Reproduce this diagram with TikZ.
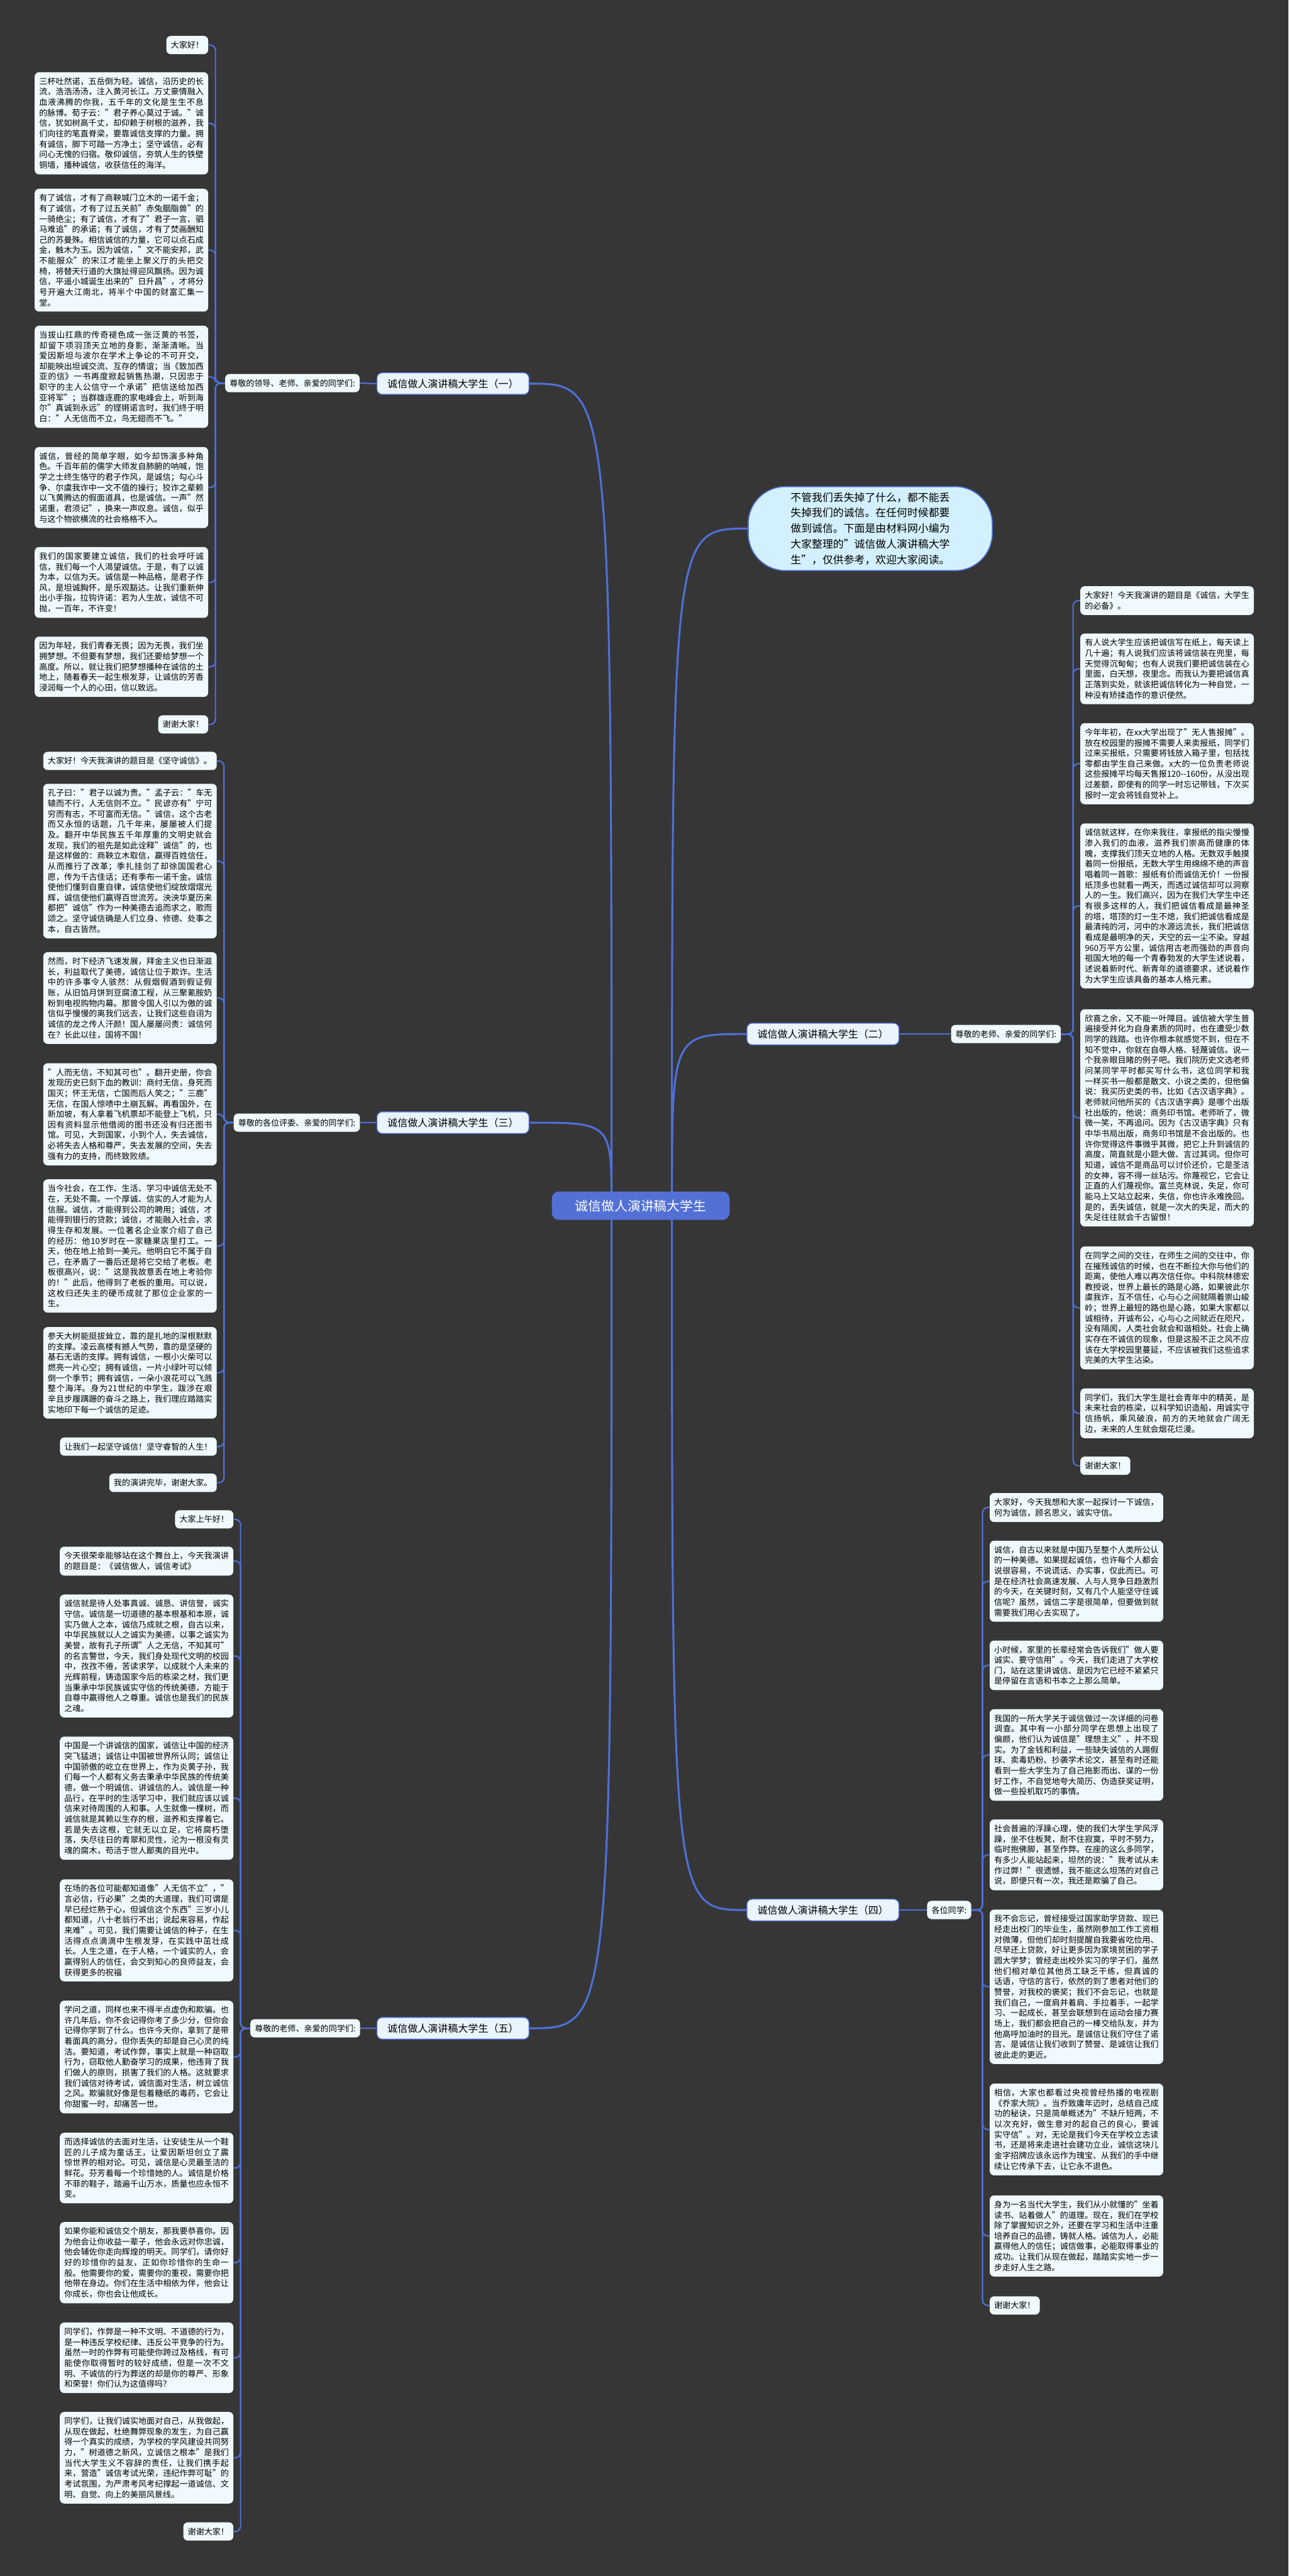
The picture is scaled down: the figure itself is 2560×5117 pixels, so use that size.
\documentclass[tikz,border=0pt]{standalone}
\usepackage{fontspec}
\setmainfont{Noto Sans CJK SC}
\XeTeXlinebreaklocale "zh"
\XeTeXlinebreakskip=0pt plus 1.5pt
\usepackage{tikz}
\usetikzlibrary{calc}
\definecolor{bgdark}{HTML}{363636}
\definecolor{leaffill}{HTML}{F0F9FD}
\definecolor{linkblue}{HTML}{4F70D8}
\definecolor{rootblue}{HTML}{5270D6}
\definecolor{bubblefill}{HTML}{D3F0FE}
\definecolor{mainfill}{HTML}{EAF4FE}
\pgfdeclarelayer{bg}
\pgfdeclarelayer{links}
\pgfsetlayers{bg,links,main}
\tikzset{
  leaf/.style={rectangle, rounded corners=5pt, fill=leaffill, text=black, inner xsep=5.1pt, inner ysep=6pt, font=\fontsize{9.28pt}{11.84pt}\selectfont},
  para/.style={leaf, text width=186pt, align=justify},
  lab/.style={leaf},
  branch/.style={rectangle, rounded corners=6pt, fill=mainfill, draw=linkblue, line width=1pt, minimum width=172pt, minimum height=24.5pt, inner sep=2pt, font=\fontsize{11.4pt}{13pt}\selectfont},
  root/.style={rectangle, rounded corners=8pt, fill=rootblue, text=white, minimum width=201pt, minimum height=32pt, inner sep=2pt, font=\fontsize{14.8pt}{17pt}\selectfont},
  bubble/.style={rectangle, rounded corners=42pt, fill=bubblefill, draw=linkblue, line width=1.2pt, text width=180pt, align=justify, minimum width=276pt, minimum height=95pt, inner ysep=6pt, font=\fontsize{12pt}{17.6pt}\selectfont},
  link/.style={draw=linkblue, line width=1.55pt, rounded corners=6pt},
  trunk/.style={draw=linkblue, line width=2.2pt}
}
\begin{document}
\begin{tikzpicture}[x=0.02cm, y=-0.02cm]

% canvas
\useasboundingbox (0,0) rectangle (2560,5117);
\begin{pgfonlayer}{bg}
  \fill[bgdark] (0,0) rectangle (2560,5117);
\end{pgfonlayer}

% centre and main topics
\node[root] (root) at (1273,2395) {诚信做人演讲稿大学生};
\coordinate (cl) at (1215,2395);
\coordinate (cr) at (1335,2395);

\node[bubble] (bub) at (1729,1050) {不管我们丢失掉了什么，都不能丢失掉我们的诚信。在任何时候都要做到诚信。下面是由材料网小编为大家整理的"诚信做人演讲稿大学生"，仅供参考，欢迎大家阅读。};

\node[branch] (b1) at (900,762) {诚信做人演讲稿大学生（一）};
\node[branch] (b2) at (1635,2054) {诚信做人演讲稿大学生（二）};
\node[branch] (b3) at (900,2230) {诚信做人演讲稿大学生（三）};
\node[branch] (b4) at (1635,3794) {诚信做人演讲稿大学生（四）};
\node[branch] (b5) at (900,4029) {诚信做人演讲稿大学生（五）};

% greetings
\node[lab, anchor=west] (l1) at (447,761) {尊敬的领导、老师、亲爱的同学们:};
\node[lab, anchor=east] (l2) at (2108,2054) {尊敬的老师、亲爱的同学们:};
\node[lab, anchor=west] (l3) at (464,2230) {尊敬的各位评委、亲爱的同学们:};
\node[lab, anchor=east] (l4) at (1930,3794) {各位同学:};
\node[lab, anchor=west] (l5) at (497,4029) {尊敬的老师、亲爱的同学们:};
\coordinate (sp1) at (428,761);
\coordinate (sp2) at (2132,2054);
\coordinate (sp3) at (445,2230);
\coordinate (sp4) at (1952,3794);
\coordinate (sp5) at (478,4029);

% speech (一)
\node[lab, anchor=east] (n1-1) at (414,89.5) {大家好！};
\node[para, anchor=east] (n1-2) at (414,245) {三杯吐然诺，五岳倒为轻。诚信，沿历史的长流，浩浩汤汤，注入黄河长江。万丈豪情融入血液沸腾的你我，五千年的文化是生生不息的脉博。荀子云："君子养心莫过于诚。"诚信，犹如树高千丈，却仰赖于树根的滋养，我们向往的笔直脊梁，要靠诚信支撑的力量。拥有诚信，脚下可踏一方净土；坚守诚信，必有问心无愧的归宿。敬仰诚信，夯筑人生的铁壁铜墙，播种诚信，收获信任的海洋。};
\node[para, anchor=east] (n1-3) at (414,497) {有了诚信，才有了商鞅城门立木的一诺千金；有了诚信，才有了过五关前"赤兔胭脂兽"的一骑绝尘；有了诚信，才有了"君子一言、驷马难追"的承诺；有了诚信，才有了焚画酬知己的苏曼殊。相信诚信的力量，它可以点石成金，触木为玉。因为诚信，"文不能安邦，武不能服众"的宋江才能坐上聚义厅的头把交椅，将替天行道的大旗扯得迎风飘扬。因为诚信，平遥小城诞生出来的"日升昌"，才将分号开遍大江南北，将半个中国的财富汇集一堂。};
\node[para, anchor=east] (n1-4) at (414,748.5) {当拔山扛鼎的传奇褪色成一张泛黄的书签，却留下项羽顶天立地的身影，渐渐清晰。当爱因斯坦与波尔在学术上争论的不可开交，却能映出坦诚交流、互存的情谊；当《致加西亚的信》一书再度掀起销售热潮，只因忠于职守的主人公信守一个承诺"把信送给加西亚将军"；当群雄逐鹿的家电峰会上，听到海尔"真诚到永远"的铿锵诺言时，我们终于明白："人无信而不立，鸟无翅而不飞。"};
\node[para, anchor=east] (n1-5) at (414,968.5) {诚信，曾经的简单字眼，如今却饰演多种角色。千百年前的儒学大师发自肺腑的呐喊，饱学之士终生恪守的君子作风，是诚信；勾心斗争、尔虞我诈中一文不值的操行；狡诈之辈赖以飞黄腾达的假面道具，也是诚信。一声"然诺重，君须记"，换来一声叹息。诚信，似乎与这个物欲横流的社会格格不入。};
\node[para, anchor=east] (n1-6) at (414,1157) {我们的国家要建立诚信，我们的社会呼吁诚信，我们每一个人渴望诚信。于是，有了以诚为本，以信为天。诚信是一种品格，是君子作风，是坦诚胸怀，是乐观豁达。让我们重新伸出小手指，拉钩许诺：若为人生故，诚信不可抛，一百年，不许变！};
\node[para, anchor=east] (n1-7) at (414,1324.5) {因为年轻，我们青春无畏；因为无畏，我们坐拥梦想。不但要有梦想，我们还要给梦想一个高度。所以，就让我们把梦想播种在诚信的土地上，随着春天一起生根发芽，让诚信的芳香浸润每一个人的心田，信以致远。};
\node[lab, anchor=east] (n1-8) at (414,1439) {谢谢大家！};

% speech (二)
\node[para, anchor=west] (n2-1) at (2146,1193) {大家好！今天我演讲的题目是《诚信，大学生的必备》。};
\node[para, anchor=west] (n2-2) at (2146,1328.5) {有人说大学生应该把诚信写在纸上，每天读上几十遍；有人说我们应该将诚信装在兜里，每天觉得沉甸甸；也有人说我们要把诚信装在心里面，白天想，夜里念。而我认为要把诚信真正落到实处，就该把诚信转化为一种自觉，一种没有矫揉造作的意识使然。};
\node[para, anchor=west] (n2-3) at (2146,1517) {今年年初，在xx大学出现了"无人售报摊"。放在校园里的报摊不需要人来卖报纸，同学们过来买报纸，只需要将钱放入箱子里，包括找零都由学生自己来做。x大的一位负责老师说这些报摊平均每天售报120-{}-160份，从没出现过差额，即使有的同学一时忘记带钱，下次买报时一定会将钱自觉补上。};
\node[para, anchor=west] (n2-4) at (2146,1799.5) {诚信就这样，在你来我往，拿报纸的指尖慢慢渗入我们的血液，滋养我们崇高而健康的体魄，支撑我们顶天立地的人格。无数双手触摸着同一份报纸，无数大学生用绵绵不绝的声音唱着同一首歌：报纸有价而诚信无价！一份报纸顶多也就看一两天，而透过诚信却可以洞察人的一生。我们高兴，因为在我们大学生中还有很多这样的人，我们把诚信看成是最神圣的塔，塔顶的灯一生不熄，我们把诚信看成是最清纯的河，河中的水源远流长，我们把诚信看成是最明净的天，天空的云一尘不染。穿越960万平方公里，诚信用古老而强劲的声音向祖国大地的每一个青春勃发的大学生述说着，述说着新时代、新青年的道德要求，述说着作为大学生应该具备的基本人格元素。};
\node[para, anchor=west] (n2-5) at (2146,2220.5) {欣喜之余，又不能一叶障目。诚信被大学生普遍接受并化为自身素质的同时，也在遭受少数同学的践踏。也许你根本就感觉不到，但在不知不觉中，你就在自辱人格、轻蔑诚信。说一个我亲眼目睹的例子吧。我们院历史文选老师问某同学平时都买写什么书，这位同学和我一样买书一般都是散文、小说之类的，但他偏说：我买历史类的书，比如《古汉语字典》。老师就问他所买的《古汉语字典》是哪个出版社出版的，他说：商务印书馆。老师听了，微微一笑，不再追问。因为《古汉语字典》只有中华书局出版，商务印书馆是不会出版的。也许你觉得这件事微乎其微，把它上升到诚信的高度，简直就是小题大做、言过其词。但你可知道，诚信不是商品可以讨价还价，它是圣洁的女神，容不得一丝玷污。你蔑视它，它会让正直的人们蔑视你。富兰克林说，失足，你可能马上又站立起来，失信，你也许永难挽回。是的，丢失诚信，就是一次大的失足，而大的失足往往就会千古留恨！};
\node[para, anchor=west] (n2-6) at (2146,2598) {在同学之间的交往，在师生之间的交往中，你在摧残诚信的时候，也在不断拉大你与他们的距离，使他人难以再次信任你。中科院林德宏教授说，世界上最长的路是心路，如果彼此尔虞我诈，互不信任，心与心之间就隔着崇山峻岭；世界上最短的路也是心路，如果大家都以诚相待，开诚布公，心与心之间就近在咫尺，没有隔阂，人类社会就会和谐相处。社会上确实存在不诚信的现象，但是这股不正之风不应该在大学校园里蔓延，不应该被我们这些追求完美的大学生沾染。};
\node[para, anchor=west] (n2-7) at (2146,2807.5) {同学们，我们大学生是社会青年中的精英，是未来社会的栋梁，以科学知识造船，用诚实守信扬帆，乘风破浪，前方的天地就会广阔无边，未来的人生就会烟花烂漫。};
\node[lab, anchor=west] (n2-8) at (2146,2911.5) {谢谢大家！};

% speech (三)
\node[para, anchor=east] (n3-1) at (431,1511.5) {大家好！今天我演讲的题目是《坚守诚信》。};
\node[para, anchor=east] (n3-2) at (431,1710.5) {孔子曰："君子以诚为贵。"孟子云："车无辕而不行，人无信则不立。"民谚亦有"宁可穷而有志，不可富而无信。"诚信，这个古老而又永恒的话题，几千年来，屡屡被人们提及。翻开中华民族五千年厚重的文明史就会发现，我们的祖先是如此诠释"诚信"的，也是这样做的：商鞅立木取信，赢得百姓信任，从而推行了改革；季扎挂剑了却徐国国君心愿，传为千古佳话；还有季布一诺千金。诚信使他们懂到自重自律，诚信使他们绽放熠熠光辉，诚信使他们赢得百世流芳。泱泱华夏历来都把"诚信"作为一种美德去追而求之，歌而颂之。坚守诚信确是人们立身、修德、处事之本，自古皆然。};
\node[para, anchor=east] (n3-3) at (431,1982.5) {然而，时下经济飞速发展，拜金主义也日渐滋长，利益取代了美德，诚信让位于欺诈。生活中的许多事令人骇然：从假烟假酒到假证假账，从旧馅月饼到豆腐渣工程，从三聚氰胺奶粉到电视购物内幕。那曾令国人引以为傲的诚信似乎慢慢的离我们远去，让我们这些自诩为诚信的龙之传人汗颜！国人屡屡问责：诚信何在？长此以往，国将不国！};
\node[para, anchor=east] (n3-4) at (431,2213.5) {"人而无信，不知其可也"。翻开史册，你会发现历史已刻下血的教训：商纣无信，身死而国灭；怀王无信，亡国而后人笑之；"三鹿"无信，在国人惊啧中土崩瓦解。再看国外，在新加坡，有人拿着飞机票却不能登上飞机，只因有资料显示他借阅的图书还没有归还图书馆。可见，大到国家，小到个人，失去诚信，必将失去人格和尊严，失去发展的空间，失去强有力的支持，而终致败绩。};
\node[para, anchor=east] (n3-5) at (431,2475) {当今社会，在工作、生活、学习中诚信无处不在，无处不需。一个厚诚、信实的人才能为人信服。诚信，才能得到公司的聘用；诚信，才能得到银行的贷款；诚信，才能融入社会，求得生存和发展。一位著名企业家介绍了自己的经历：他10岁时在一家糖果店里打工。一天，他在地上拾到一美元。他明白它不属于自己，在矛盾了一番后还是将它交给了老板。老板很高兴，说："这是我故意丢在地上考验你的！"此后，他得到了老板的重用。可以说，这枚归还失主的硬币成就了那位企业家的一生。};
\node[para, anchor=east] (n3-6) at (431,2727) {参天大树能挺拔耸立，靠的是扎地的深根默默的支撑。凌云高楼有撼人气势，靠的是坚硬的基石无语的支撑。拥有诚信，一根小火柴可以燃亮一片心空；拥有诚信，一片小绿叶可以倾倒一个季节；拥有诚信，一朵小浪花可以飞溅整个海洋。身为21世纪的中学生，跋涉在艰辛且步履蹒跚的奋斗之路上，我们理应踏踏实实地印下每一个诚信的足迹。};
\node[lab, anchor=east] (n3-7) at (431,2873.5) {让我们一起坚守诚信！坚守睿智的人生！};
\node[lab, anchor=east] (n3-8) at (431,2945.5) {我的演讲完毕，谢谢大家。};

% speech (四)
\node[para, anchor=west] (n4-1) at (1966,2994.5) {大家好，今天我想和大家一起探讨一下诚信，何为诚信，顾名思义，诚实守信。};
\node[para, anchor=west] (n4-2) at (1966,3141) {诚信，自古以来就是中国乃至整个人类所公认的一种美德。如果提起诚信，也许每个人都会说很容易，不说谎话、办实事，仅此而已。可是在经济社会高速发展、人与人竞争日趋激烈的今天，在关键时刻，又有几个人能坚守住诚信呢？虽然，诚信二字是很简单，但要做到就需要我们用心去实现了。};
\node[para, anchor=west] (n4-3) at (1966,3308) {小时候，家里的长辈经常会告诉我们"做人要诚实、要守信用"。今天，我们走进了大学校门，站在这里讲诚信、是因为它已经不紧紧只是停留在言语和书本之上那么简单。};
\node[para, anchor=west] (n4-4) at (1966,3486) {我国的一所大学关于诚信做过一次详细的问卷调查。其中有一小部分同学在思想上出现了偏颇，他们认为诚信是"理想主义"，并不现实。为了金钱和利益，一些缺失诚信的人踢假球、卖毒奶粉、抄袭学术论文，甚至有时还能看到一些大学生为了自己拖影而出、谋的一份好工作，不自觉地夸大简历、伪造获奖证明，做一些投机取巧的事情。};
\node[para, anchor=west] (n4-5) at (1966,3684.5) {社会普遍的浮躁心理，使的我们大学生学风浮躁，坐不住板凳，耐不住寂寞，平时不努力，临时抱佛脚，甚至作弊。在座的这么多同学，有多少人能站起来，坦然的说："我考试从未作过弊！"很遗憾，我不能这么坦荡的对自己说，即便只有一次，我还是欺骗了自己。};
\node[para, anchor=west] (n4-6) at (1966,3946.5) {我不会忘记，曾经接受过国家助学贷款、现已经走出校门的毕业生，虽然刚参加工作工资相对微薄，但他们却时刻提醒自我要省吃俭用、尽早还上贷款，好让更多因为家境贫困的学子圆大学梦；曾经走出校外实习的学子们，虽然他们相对单位其他员工缺乏干练，但真诚的话语，守信的言行，依然的到了患者对他们的赞誉，对我校的褒奖；我们不会忘记，也就是我们自己，一度肩并着肩、手拉着手，一起学习、一起成长，甚至会联想到在运动会接力赛场上，我们都会把自己的一棒交给队友，并为他高呼加油时的目光。是诚信让我们守住了诺言、是诚信让我们收到了赞誉、是诚信让我们彼此走的更近。};
\node[para, anchor=west] (n4-7) at (1966,4230) {相信，大家也都看过央视曾经热播的电视剧《乔家大院》。当乔致庸年迈时，总结自己成功的秘诀，只是简单概述为"不缺斤短两，不以次充好，做生意对的起自己的良心，要诚实守信"。对，无论是我们今天在学校立志读书，还是将来走进社会建功立业，诚信这块儿金字招牌应该永远作为瑰宝、从我们的手中继续让它传承下去，让它永不退色。};
\node[para, anchor=west] (n4-8) at (1966,4441.5) {身为一名当代大学生，我们从小就懂的"坐着读书、站着做人"的道理。现在，我们在学校除了掌握知识之外，还要在学习和生活中注重培养自己的品德，铸就人格。诚信为人，必能赢得他人的信任；诚信做事，必能取得事业的成功。让我们从现在做起，踏踏实实地一步一步走好人生之路。};
\node[lab, anchor=west] (n4-9) at (1966,4579.5) {谢谢大家！};

% speech (五)
\node[lab, anchor=east] (n5-1) at (464,3018) {大家上午好！};
\node[para, anchor=east] (n5-2) at (464,3101) {今天很荣幸能够站在这个舞台上，今天我演讲的题目是：《诚信做人，诚信考试》};
\node[para, anchor=east] (n5-3) at (464,3289.5) {诚信就是待人处事真诚、诚恳、讲信誉，诚实守信。诚信是一切道德的基本根基和本原，诚实乃做人之本，诚信乃成就之根，自古以来，中华民族就以人之诚实为美德，以事之诚实为美誉，故有孔子所谓"人之无信，不知其可"的名言警世，今天，我们身处现代文明的校园中，孜孜不倦，苦读求学，以成就个人未来的光辉前程，铸造国家今后的栋梁之材，我们更当秉承中华民族诚实守信的传统美德，方能于自尊中赢得他人之尊重。诚信也是我们的民族之魂。};
\node[para, anchor=east] (n5-4) at (464,3572) {中国是一个讲诚信的国家，诚信让中国的经济突飞猛进；诚信让中国被世界所认同；诚信让中国骄傲的屹立在世界上，作为炎黄子孙，我们每一个人都有义务去秉承中华民族的传统美德，做一个明诚信、讲诚信的人。诚信是一种品行，在平时的生活学习中，我们就应该以诚信来对待周围的人和事。人生就像一棵树，而诚信就是其赖以生存的根，滋养和支撑着它。若是失去这根，它就无以立足，它将腐朽堕落，失尽往日的青翠和灵性，沦为一根没有灵魂的腐木，苟活于世人鄙夷的目光中。};
\node[para, anchor=east] (n5-5) at (464,3834.5) {在场的各位可能都知道像"人无信不立"，"言必信，行必果"之类的大道理，我们可谓是早已经烂熟于心，但诚信这个东西"三岁小儿都知道，八十老翁行不出；说起来容易，作起来难"。可见，我们需要让诚信的种子，在生活得点点滴滴中生根发芽，在实践中茁壮成长。人生之道，在于人格，一个诚实的人，会赢得别人的信任，会交到知心的良师益友，会获得更多的祝福};
\node[para, anchor=east] (n5-6) at (464,4086) {学问之道，同样也来不得半点虚伪和欺骗。也许几年后，你不会记得你考了多少分，但你会记得你学到了什么。也许今天你，拿到了是带着面具的高分，但你丢失的却是自己心灵的纯洁。要知道，考试作弊，事实上就是一种窃取行为，窃取他人勤奋学习的成果，他违背了我们做人的原则，损害了我们的人格。这就要求我们诚信对待考试，诚信面对生活，树立诚信之风。欺骗就好像是包着糖纸的毒药，它会让你甜蜜一时，却痛苦一世。};
\node[para, anchor=east] (n5-7) at (464,4306.5) {而选择诚信的去面对生活，让安徒生从一个鞋匠的儿子成为童话王，让爱因斯坦创立了震惊世界的相对论。可见，诚信是心灵最圣洁的鲜花。芬芳着每一个珍惜她的人。诚信是价格不菲的鞋子，踏遍千山万水，质量也应永恒不变。};
\node[para, anchor=east] (n5-8) at (464,4494.5) {如果你能和诚信交个朋友，那我要恭喜你。因为他会让你收益一辈子，他会永远对你忠诚，他会辅佐你走向辉煌的明天。同学们，请你好好的珍惜你的益友，正如你珍惜你的生命一般。他需要你的爱，需要你的重视，需要你把他带在身边。你们在生活中相依为伴，他会让你成长，你也会让他成长。};
\node[para, anchor=east] (n5-9) at (464,4683.5) {同学们，作弊是一种不文明、不道德的行为，是一种违反学校纪律、违反公平竞争的行为。虽然一时的作弊有可能使你跨过及格线，有可能使你取得暂时的较好成绩，但是一次不文明、不诚信的行为葬送的却是你的尊严、形象和荣誉！你们认为这值得吗？};
\node[para, anchor=east] (n5-10) at (464,4882) {同学们，让我们诚实地面对自己，从我做起，从现在做起，杜绝舞弊现象的发生，为自己赢得一个真实的成绩，为学校的学风建设共同努力，"树道德之新风，立诚信之根本"是我们当代大学生义不容辞的责任，让我们携手起来，营造"诚信考试光荣，违纪作弊可耻"的考试氛围，为严肃考风考纪撑起一道诚信、文明、自觉、向上的美丽风景线。};
\node[lab, anchor=east] (n5-11) at (464,5028.5) {谢谢大家！};

% connectors
\begin{pgfonlayer}{links}
  \draw[trunk] (cr) .. controls (cr |- bub.west) .. (bub.west);
  \draw[trunk] (cl) .. controls (cl |- b1.east) .. (b1.east);
  \draw[trunk] (cr) .. controls (cr |- b2.west) .. (b2.west);
  \draw[trunk] (cl) .. controls (cl |- b3.east) .. (b3.east);
  \draw[trunk] (cr) .. controls (cr |- b4.west) .. (b4.west);
  \draw[trunk] (cl) .. controls (cl |- b5.east) .. (b5.east);

  \draw[link] (b1.west) -- (l1.east);
  \draw[link] (b2.east) -- (l2.west);
  \draw[link] (b3.west) -- (l3.east);
  \draw[link] (b4.east) -- (l4.west);
  \draw[link] (b5.west) -- (l5.east);

  \foreach \i in {1,...,8}
    \draw[link] (l1.west) -- (sp1) |- (n1-\i.east);
  \foreach \i in {1,...,8}
    \draw[link] (l2.east) -- (sp2) |- (n2-\i.west);
  \foreach \i in {1,...,8}
    \draw[link] (l3.west) -- (sp3) |- (n3-\i.east);
  \foreach \i in {1,...,9}
    \draw[link] (l4.east) -- (sp4) |- (n4-\i.west);
  \foreach \i in {1,...,11}
    \draw[link] (l5.west) -- (sp5) |- (n5-\i.east);
\end{pgfonlayer}

\end{tikzpicture}
\end{document}
